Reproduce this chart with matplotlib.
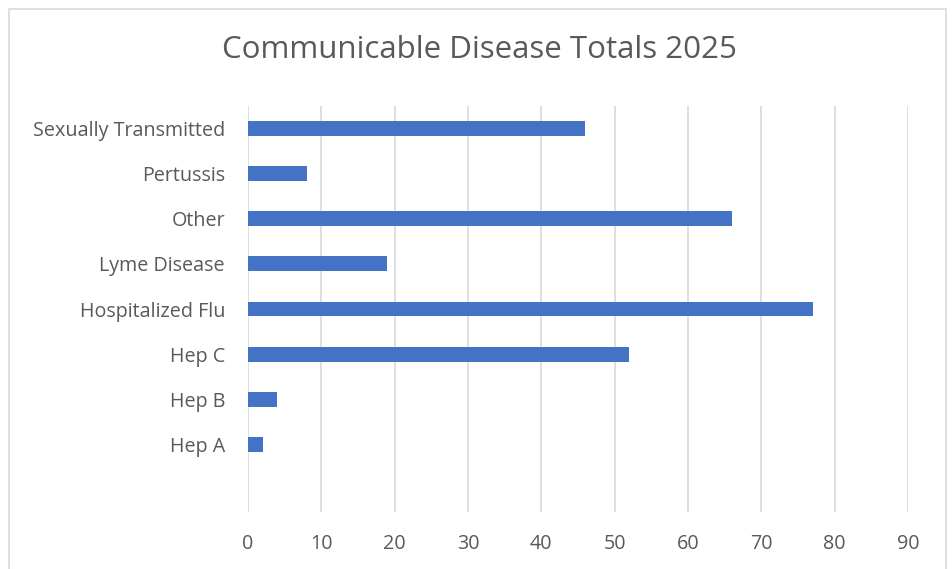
import matplotlib
matplotlib.use('AGG')
import matplotlib.pyplot as plt
from matplotlib.patches import Rectangle
import numpy as np

# data, bottom to top
categories = ['Hep A', 'Hep B', 'Hep C', 'Hospitalized Flu', 'Lyme Disease',
              'Other', 'Pertussis', 'Sexually Transmitted']
totals = [2, 4, 52, 77, 19, 66, 8, 46]
x_ticks = [0, 10, 20, 30, 40, 50, 60, 70, 80, 90]

bar_color = '#4472C4'
text_color = '#595959'
grid_color = '#D9D9D9'

plt.rcParams['font.family'] = ['Open Sans', 'DejaVu Sans']

fig = plt.figure(figsize=(9.52, 5.69), dpi=100)
ax = fig.add_axes([248 / 952, 57 / 569, 660 / 952, 406 / 569])

# an empty slot is left below the first category, as in the source chart
y_pos = np.arange(1, len(categories) + 1)
ax.barh(y_pos, totals, height=0.33, color=bar_color, zorder=3)

ax.set_xlim(0, 90)
ax.set_ylim(-0.5, len(categories) + 0.5)
ax.set_xticks(x_ticks)
ax.set_yticks(y_pos)
ax.set_yticklabels(categories)
ax.tick_params(axis='both', length=0, colors=text_color, labelsize=14.2)
ax.tick_params(axis='x', pad=16)
ax.tick_params(axis='y', pad=16.5)

ax.grid(axis='x', color=grid_color, linewidth=1.2, zorder=0)
for s in ax.spines.values():
    s.set_visible(False)

fig.text(479 / 952, 1 - 50 / 569, 'Communicable Disease Totals 2025',
         ha='center', va='center', fontsize=22.5, color=text_color)

# chart frame
fig.patches.append(Rectangle((9 / 952, -0.01), 937 / 952, 1 - 9 / 569 + 0.01,
                             transform=fig.transFigure, fill=False,
                             edgecolor=grid_color, linewidth=1.2))

fig.savefig('out.png', dpi=100)
plt.close()
